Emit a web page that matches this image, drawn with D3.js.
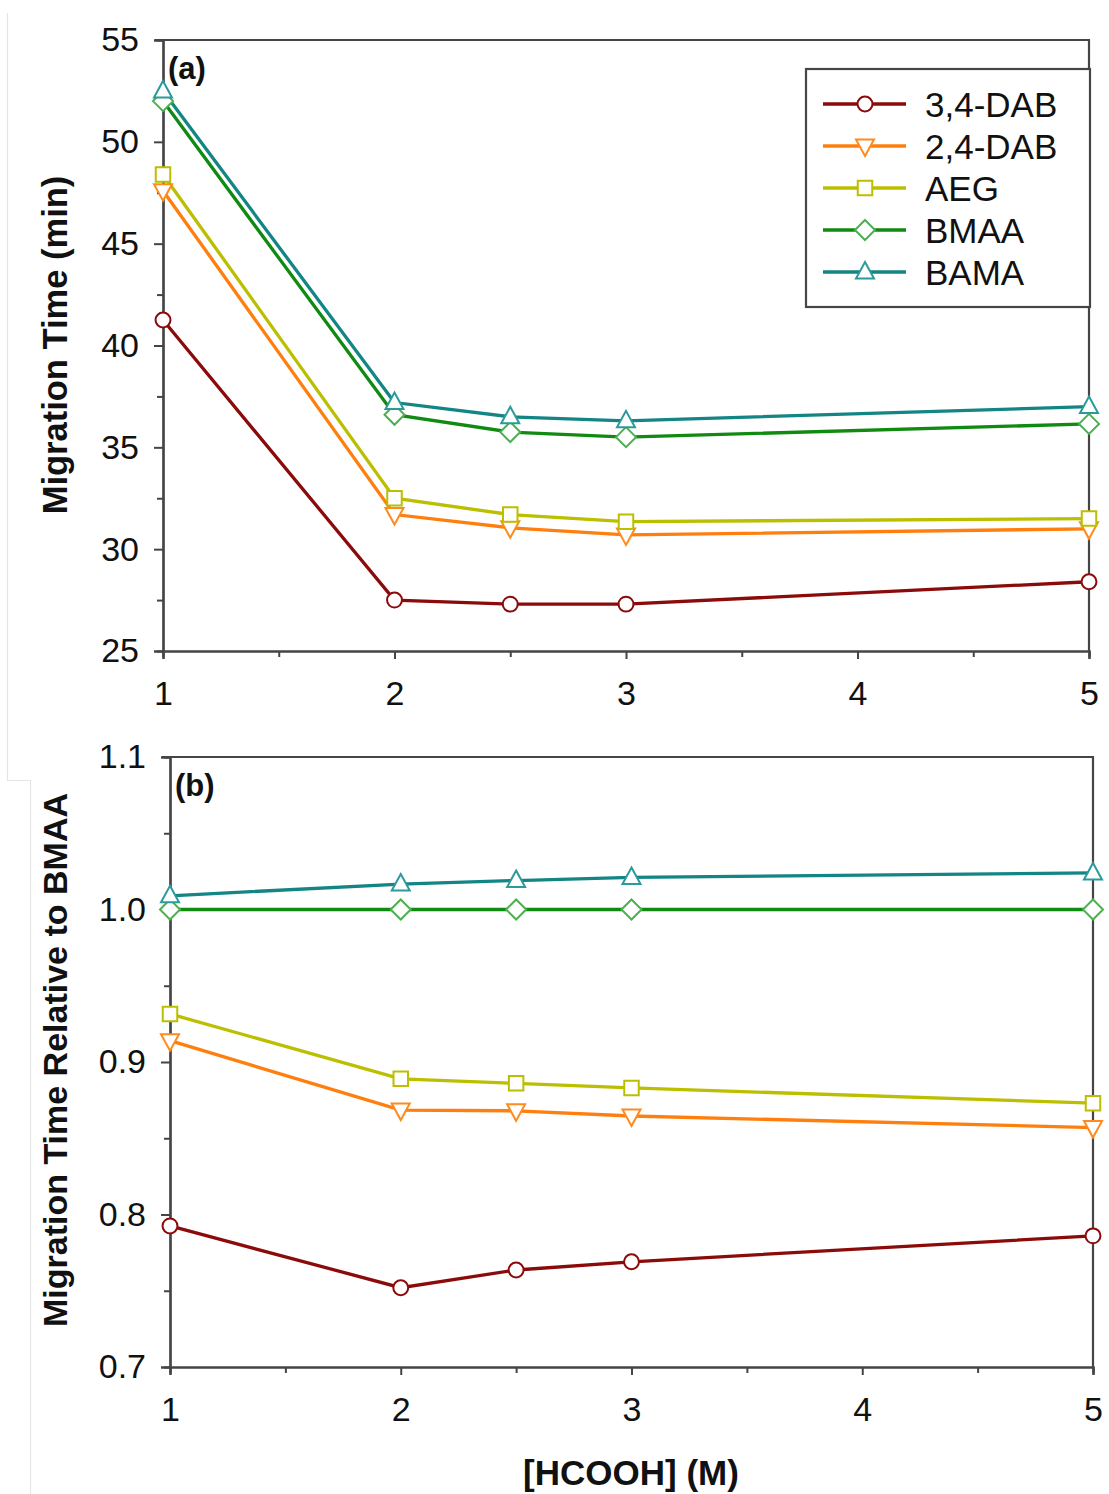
<!DOCTYPE html>
<html>
<head>
<meta charset="utf-8">
<script src="https://cdn.jsdelivr.net/npm/d3@7"></script>
<style>
  html, body { margin: 0; padding: 0; background: #fff; }
  svg { display: block; }
  text { font-family: "Liberation Sans", Arial, sans-serif; fill: #111; }
</style>
</head>
<body>
<svg id="chart" width="1109" height="1494"></svg>
<script>
// Formic acid concentration (M)
const concentrations = [1, 2, 2.5, 3, 5];

// Series names, colours and marker shapes
const seriesNames = ["3,4-DAB", "2,4-DAB", "AEG", "BMAA", "BAMA"];
const seriesColors = ["#8b0a0a", "#ff7f0e", "#bcbf00", "#118a11", "#138585"];
const markerColors = ["#8b0a0a", "#ff8a1e", "#bcbf00", "#4caf50", "#2a9a9a"];
const seriesShapes = ["circle", "triangleDown", "square", "diamond", "triangleUp"];

// (a) migration time, minutes
const timeDAB34 = [41.25, 27.5, 27.3, 27.3, 28.4];
const timeDAB24 = [47.6, 31.7, 31.05, 30.7, 31.0];
const timeAEG   = [48.4, 32.5, 31.7, 31.35, 31.5];
const timeBMAA  = [52.0, 36.6, 35.75, 35.5, 36.15];
const timeBAMA  = [52.5, 37.2, 36.5, 36.3, 37.0];

// (b) migration time relative to BMAA
const relDAB34 = [0.7925, 0.752, 0.7636, 0.769, 0.786];
const relDAB24 = [0.914, 0.8685, 0.868, 0.8646, 0.857];
const relAEG   = [0.9315, 0.889, 0.886, 0.883, 0.873];
const relBMAA  = [1.0, 1.0, 1.0, 1.0, 1.0];
const relBAMA  = [1.009, 1.0167, 1.019, 1.021, 1.024];

// Tick labels
const xTicks = [1, 2, 3, 4, 5];
const yTicksA = [25, 30, 35, 40, 45, 50, 55];
const yTicksB = [0.7, 0.8, 0.9, 1.0, 1.1];

const timeSeries = [timeDAB34, timeDAB24, timeAEG, timeBMAA, timeBAMA];
const relSeries = [relDAB34, relDAB24, relAEG, relBMAA, relBAMA];

const svg = d3.select("#chart");
const axisColor = "#454545";

// faint frame edge on the left
svg.append("path")
  .attr("d", "M7.5,13 V780.5 H30.5 V1494")
  .attr("fill", "none").attr("stroke", "#e4e4e4").attr("stroke-width", 1.2);

function markerPath(shape) {
  switch (shape) {
    case "circle": return d3.symbol(d3.symbolCircle, 175)();
    case "square": return d3.symbol(d3.symbolSquare, 210)();
    case "diamond": return "M0,-10L10,0L0,10L-10,0Z";
    case "triangleUp": return "M0,-10L9,6.5L-9,6.5Z";
    case "triangleDown": return "M0,10L9,-6.5L-9,-6.5Z";
  }
}

function drawPanel(opts) {
  const { left, right, top, bottom, yDomain, yTickVals, yMinor, yFmt, data, label } = opts;
  const x = d3.scaleLinear().domain([1, 5]).range([left, right]);
  const y = d3.scaleLinear().domain(yDomain).range([bottom, top]);
  const g = svg.append("g");

  // frame: top and right edges
  g.append("path")
    .attr("d", `M${left - 8},${top} H${right} V${bottom}`)
    .attr("fill", "none").attr("stroke", axisColor).attr("stroke-width", 2.2);

  // left axis, major + minor ticks
  const yAxis = d3.axisLeft(y).tickValues(yTickVals).tickFormat(yFmt).tickSize(9).tickPadding(15);
  const ya = g.append("g").attr("transform", `translate(${left},0)`).call(yAxis);
  const yAxisMinor = d3.axisLeft(y).tickValues(yMinor).tickFormat("").tickSize(6);
  const ym = g.append("g").attr("transform", `translate(${left},0)`).call(yAxisMinor);

  // bottom axis
  const xAxis = d3.axisBottom(x).tickValues(xTicks).tickFormat(d3.format("d")).tickSize(8).tickPadding(22);
  const xa = g.append("g").attr("transform", `translate(0,${bottom})`).call(xAxis);
  const xAxisMinor = d3.axisBottom(x).tickValues([1.5, 2.5, 3.5, 4.5]).tickFormat("").tickSize(6);
  const xm = g.append("g").attr("transform", `translate(0,${bottom})`).call(xAxisMinor);

  [ya, ym, xa, xm].forEach(a => {
    a.select(".domain").attr("stroke", axisColor).attr("stroke-width", 2.2);
    a.selectAll(".tick line").attr("stroke", axisColor).attr("stroke-width", 2);
    a.selectAll(".tick text").style("font-size", "34px").attr("fill", "#111");
  });

  // series lines
  const line = d3.line().x((d, i) => x(concentrations[i])).y(d => y(d));
  data.forEach((vals, s) => {
    g.append("path").datum(vals)
      .attr("d", line)
      .attr("fill", "none")
      .attr("stroke", seriesColors[s])
      .attr("stroke-width", 3.3);
  });
  data.forEach((vals, s) => {
    g.selectAll(null).data(vals).enter().append("path")
      .attr("d", markerPath(seriesShapes[s]))
      .attr("transform", (d, i) => `translate(${x(concentrations[i])},${y(d)})`)
      .attr("fill", "#fff")
      .attr("stroke", markerColors[s])
      .attr("stroke-width", 2);
  });

  g.append("text")
    .attr("x", left + 5).attr("y", top + 39)
    .style("font-size", "31px").style("font-weight", "bold")
    .text(label);

  return { x, y, g };
}

// (a)
drawPanel({
  left: 163, right: 1089, top: 40, bottom: 651,
  yDomain: [25, 55], yTickVals: yTicksA,
  yMinor: [27.5, 32.5, 37.5, 42.5, 47.5, 52.5],
  yFmt: d3.format("d"),
  data: timeSeries, label: "(a)"
});

// (b)
drawPanel({
  left: 170, right: 1093, top: 757, bottom: 1367,
  yDomain: [0.7, 1.1], yTickVals: yTicksB,
  yMinor: [0.75, 0.85, 0.95, 1.05],
  yFmt: d3.format(".1f"),
  data: relSeries, label: "(b)"
});

// legend
const lg = svg.append("g");
lg.append("rect")
  .attr("x", 806).attr("y", 69).attr("width", 284).attr("height", 238)
  .attr("fill", "#fff").attr("stroke", axisColor).attr("stroke-width", 2.2);
seriesNames.forEach((name, s) => {
  const cy = 104 + s * 42;
  lg.append("line").attr("x1", 823).attr("x2", 906).attr("y1", cy).attr("y2", cy)
    .attr("stroke", seriesColors[s]).attr("stroke-width", 3.3);
  lg.append("path").attr("d", markerPath(seriesShapes[s]))
    .attr("transform", `translate(865,${cy})`)
    .attr("fill", "#fff").attr("stroke", markerColors[s]).attr("stroke-width", 2);
  lg.append("text").attr("x", 925).attr("y", cy + 13)
    .style("font-size", "35px").text(name);
});

// axis titles
svg.append("text")
  .attr("transform", "translate(67,345) rotate(-90)")
  .attr("text-anchor", "middle")
  .style("font-size", "34.5px").style("font-weight", "bold")
  .text("Migration Time (min)");
svg.append("text")
  .attr("transform", "translate(67,1060) rotate(-90)")
  .attr("text-anchor", "middle")
  .style("font-size", "34px").style("font-weight", "bold")
  .text("Migration Time Relative to BMAA");
svg.append("text")
  .attr("x", 631).attr("y", 1485)
  .attr("text-anchor", "middle")
  .style("font-size", "35px").style("font-weight", "bold")
  .text("[HCOOH] (M)");
</script>
</body>
</html>
